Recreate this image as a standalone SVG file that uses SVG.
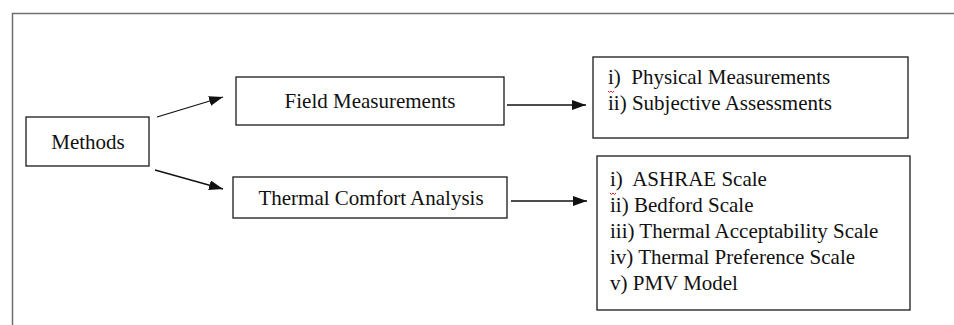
<svg xmlns="http://www.w3.org/2000/svg" width="954" height="325" viewBox="0 0 954 325">
<defs>
<style>
.box{fill:#fff;stroke:#1a1a1a;stroke-width:1.3}
.t{font-family:"Liberation Serif","Times New Roman",serif;font-size:21px;fill:#111;white-space:pre}
.c{text-anchor:middle}
.conn{stroke:#111;stroke-width:1.3;fill:none}
.frame{stroke:#707070;stroke-width:1.5;fill:none}
.sq{stroke:#d22;stroke-width:1;fill:none}
</style>
<marker id="ah" viewBox="0 0 14 10" refX="14" refY="5" markerWidth="14" markerHeight="10" markerUnits="userSpaceOnUse" orient="auto">
<path d="M0,0 L14,5 L0,10 Z" fill="#111"/>
</marker>
</defs>
<path class="frame" d="M954,13.5 H12.5 V325"/>
<g id="methods">
<rect class="box" x="26" y="117" width="123" height="49"/>
<text class="t c" x="88" y="149">Methods</text>
</g>
<g id="field">
<rect class="box" x="236" y="77" width="268" height="48"/>
<text class="t c" x="370" y="108">Field Measurements</text>
</g>
<g id="thermal">
<rect class="box" x="233" y="177" width="274" height="41"/>
<text class="t c" x="371" y="205">Thermal Comfort Analysis</text>
</g>
<g id="field-list">
<rect class="box" x="593" y="57" width="315" height="81"/>
<text class="t" x="608" y="84">i)  Physical Measurements</text>
<text class="t" x="608" y="109.5">ii) Subjective Assessments</text>
<path class="sq" d="M608,91 l1.5,1.5 l1.5,-1.5 l1.5,1.5 l1.5,-1.5"/>
</g>
<g id="thermal-list">
<rect class="box" x="597" y="156" width="313" height="154"/>
<text class="t" x="610" y="186">i)  ASHRAE Scale</text>
<text class="t" x="610" y="212">ii) Bedford Scale</text>
<text class="t" x="610" y="238">iii) Thermal Acceptability Scale</text>
<text class="t" x="610" y="264">iv) Thermal Preference Scale</text>
<text class="t" x="610" y="290">v) PMV Model</text>
<path class="sq" d="M610,193 l1.5,1.5 l1.5,-1.5 l1.5,1.5 l1.5,-1.5"/>
</g>
<g id="connectors">
<line class="conn" x1="157" y1="117" x2="223" y2="97" marker-end="url(#ah)"/>
<line class="conn" x1="155" y1="170" x2="223" y2="189" marker-end="url(#ah)"/>
<line class="conn" x1="507" y1="105" x2="586" y2="105" marker-end="url(#ah)"/>
<line class="conn" x1="511" y1="201" x2="587" y2="201" marker-end="url(#ah)"/>
</g>
</svg>
